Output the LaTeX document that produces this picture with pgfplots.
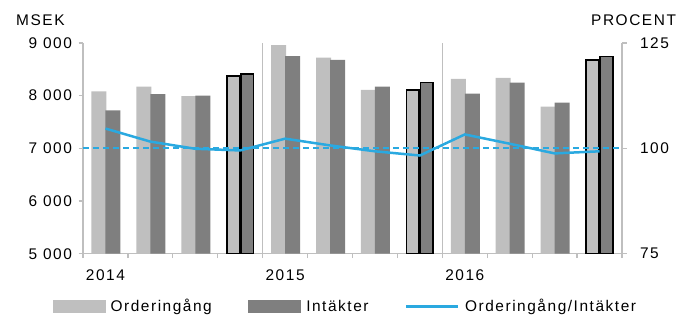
\documentclass[border=0pt]{standalone}
\usepackage{pgfplots}
\pgfplotsset{compat=1.18}
\usepackage{fontspec}
\setmainfont{Liberation Sans}[LetterSpace=10]
\definecolor{lightbar}{HTML}{BFBFBF}
\definecolor{darkbar}{HTML}{7F7F7F}
\definecolor{ratio}{HTML}{2AA9E0}
\definecolor{axgray}{HTML}{BFBFBF}

\pgfplotstableread{
x light dark
1 8080 7720
2 8170 8030
3 7990 8000
5 8960 8750
6 8720 8680
7 8110 8170
9 8320 8040
10 8340 8250
11 7790 7870
}\regular
\pgfplotstableread{
x light dark
4 8370 8410
8 8110 8250
12 8680 8740
}\fourth
\pgfplotstableread{
x r
1 104.7
2 101.6
3 99.9
4 99.5
5 102.3
6 100.7
7 99.3
8 98.3
9 103.3
10 101.1
11 98.8
12 99.3
}\ratiotab

\pgfplotsset{
  common/.style={
    at={(83bp,61.3bp)}, anchor=south west,
    scale only axis, width=539bp, height=210.7bp,
    xmin=0.5, xmax=12.5,
    font=\fontsize{15.5}{18}\selectfont,
    /pgf/number format/assume math mode=true,
    axis line style={axgray, line width=1.2bp},
    tick style={axgray, line width=1.2bp},
    tick align=outside, major tick length=4.5bp,
  }
}

\begin{document}
\begin{tikzpicture}
\useasboundingbox (0,0) rectangle (685bp,315bp);
\begin{axis}[common,
  ymin=5000, ymax=9000,
  axis x line*=bottom, axis y line*=left,
  ytick={5000,6000,7000,8000,9000},
  yticklabels={5 000,6 000,7 000,8 000,9 000},
  yticklabel style={xshift=-3bp},
  xtick={0.5,1.5,...,12.5}, xticklabels={},
  extra x ticks={1,5,9}, extra x tick labels={2014,2015,2016},
  extra x tick style={major tick length=0pt, xticklabel style={yshift=-12bp}},
]
\draw[axgray, line width=1.1bp] (axis cs:4.5,5000) -- (axis cs:4.5,9000);
\draw[axgray, line width=1.1bp] (axis cs:8.5,5000) -- (axis cs:8.5,9000);
\addplot[ybar, bar width=15bp, bar shift=-6.5bp, fill=lightbar, draw=none] table[x=x, y=light] {\regular};
\addplot[ybar, bar width=15bp, bar shift=7.5bp, fill=darkbar, draw=none] table[x=x, y=dark] {\regular};
\addplot[ybar, bar width=12.5bp, bar shift=-7bp, fill=lightbar, draw=black, line width=1.6bp] table[x=x, y=light] {\fourth};
\addplot[ybar, bar width=12.5bp, bar shift=7bp, fill=darkbar, draw=black, line width=1.6bp] table[x=x, y=dark] {\fourth};
\end{axis}
\begin{axis}[common,
  ymin=75, ymax=125,
  axis x line=none, axis y line*=right,
  ytick={75,100,125},
  yticklabel style={xshift=10bp},
  legend columns=3,
  legend style={at={(0.49,-0.25)}, anchor=center, draw=none, fill=none,
    font=\fontsize{15.5}{18}\selectfont,
    /tikz/every even column/.append style={column sep=31bp},
    nodes={inner xsep=5.5bp}},
]
\addplot[ratio, line width=1.8bp, dash pattern=on 6bp off 4bp, forget plot] coordinates {(0.5,100) (12.5,100)};
\addlegendimage{legend image code/.code={\fill[lightbar] (0bp,-6bp) rectangle (52bp,6bp);}}
\addlegendentry{Orderingång}
\addlegendimage{legend image code/.code={\fill[darkbar] (0bp,-6bp) rectangle (52bp,6bp);}}
\addlegendentry{Intäkter}
\addplot[ratio, line width=2.5bp, legend image code/.code={\draw[ratio, line width=2.5bp] (0bp,0bp) -- (52bp,0bp);}] table[x=x, y=r] {\ratiotab};
\addlegendentry{Orderingång/Intäkter}
\end{axis}
\node[anchor=base west, font=\fontsize{15.5}{18}\selectfont, inner sep=0pt] at (16bp,289bp) {MSEK};
\node[anchor=base west, font=\fontsize{15.5}{18}\selectfont, inner sep=0pt] at (591bp,289bp) {PROCENT};
\end{tikzpicture}
\end{document}
